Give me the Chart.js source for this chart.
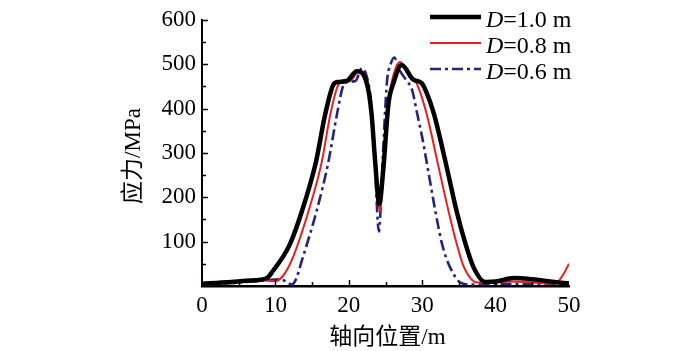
<!DOCTYPE html>
<html>
<head>
<meta charset="utf-8">
<script src="https://cdn.jsdelivr.net/npm/chart.js@4.4.0/dist/chart.umd.min.js"></script>
<style>
html,body{margin:0;padding:0;background:#fff;}
#wrap{width:700px;height:351px;position:relative;}
</style>
</head>
<body>
<div id="wrap"><canvas id="c" width="700" height="351"></canvas></div>
<script>
// ---- data ----
const seriesLabels = ['1.0', '0.8', '0.6'];

const x10 = [0, 2, 4, 6, 8, 9, 9.7, 11, 12, 13.6, 15.5, 16.8, 17.9, 18.5, 19.7, 21.1, 22.5, 23.1, 23.6, 24.15, 24.7, 25.4, 26.1, 27.2, 28.8, 29.9, 30.5, 31.6, 33.2, 34.7, 35.9, 37, 38.6, 40, 42.5, 45, 48, 50];
const y10 = [5, 7, 9, 12, 14, 20, 35, 65, 95, 168, 278, 388, 454, 460, 462, 484, 454, 388, 278, 185, 263, 410, 458, 498, 465, 458, 440, 388, 278, 168, 95, 42, 9, 10, 18, 15, 9, 6];

const x08 = [0, 3, 6, 8, 10, 11, 12.2, 14.5, 16.3, 17.5, 18.6, 19.3, 20.2, 21.4, 22.6, 23.2, 23.7, 24.2, 24.7, 25.3, 26, 27, 28.3, 29.2, 30.6, 32.1, 33.6, 34.7, 35.7, 37.5, 39, 42, 45, 47.5, 48.5, 49.3, 50];
const y08 = [3, 6, 10, 13, 11, 22, 57, 168, 278, 388, 454, 460, 462, 484, 455, 385, 275, 168, 250, 400, 470, 505, 470, 458, 388, 278, 168, 95, 42, 8, 8, 10, 8, 5, 10, 28, 50];

const x06 = [0, 3, 6, 9, 10.5, 11.5, 12.2, 12.8, 13.6, 15.6, 17.2, 18.4, 19.3, 19.8, 20.9, 21.8, 22.5, 23, 23.5, 24.1, 24.6, 25.2, 25.7, 26.2, 26.8, 27.9, 28.6, 29.3, 30, 30.6, 31.8, 32.7, 33.8, 35.4, 37, 40, 45, 50];
const y06 = [3, 6, 9, 13, 15, 10, 3, 15, 57, 168, 278, 388, 454, 460, 462, 491, 469, 420, 300, 123, 280, 460, 500, 515, 490, 462, 443, 390, 335, 280, 168, 95, 42, 6, 3, 5, 5, 5];

const xTicks = [0, 10, 20, 30, 40, 50];
const yTicks = [100, 200, 300, 400, 500, 600];
const xTitle = '轴向位置/m';
const yTitle = '应力/MPa';

// ---- chart ----
const FONT = "'Times New Roman', 'Liberation Serif', serif";
const CJK = "'Times New Roman', 'Liberation Serif', 'Noto Sans CJK SC', serif";
const colors = ['#000000', '#ee1c1c', '#27247a'];
const widths = [4.5, 2, 2.6];
const dashes = [[], [], [11, 4, 3, 4]];

function pts(xs, ys) { return xs.map((x, i) => ({x: x, y: ys[i]})); }
const allX = [x10, x08, x06], allY = [y10, y08, y06];

const datasets = seriesLabels.map((lab, i) => ({
  label: 'D=' + lab + ' m',
  data: pts(allX[i], allY[i]),
  borderColor: colors[i],
  borderWidth: widths[i],
  borderDash: dashes[i],
  pointRadius: 0,
  fill: false,
  cubicInterpolationMode: 'monotone',
  order: [1, 2, 3][i]
}));

const decor = {
  id: 'decor',
  afterDraw(chart) {
    const ctx = chart.ctx;
    const xs = chart.scales.x, ys = chart.scales.y;
    const ca = chart.chartArea;
    ctx.save();
    ctx.strokeStyle = '#000';
    ctx.lineWidth = 1.5;
    // inward ticks
    for (let v = 50; v <= 600; v += 50) {
      const p = Math.round(ys.getPixelForValue(v)) + 0.5;
      const len = (v % 100 === 0) ? 6 : 4;
      ctx.beginPath(); ctx.moveTo(ca.left, p); ctx.lineTo(ca.left + len, p); ctx.stroke();
    }
    for (let v = 5; v <= 45; v += 5) {
      const p = Math.round(xs.getPixelForValue(v)) + 0.5;
      const len = (v % 10 === 0) ? 6 : 4;
      ctx.beginPath(); ctx.moveTo(p, ca.bottom); ctx.lineTo(p, ca.bottom - len); ctx.stroke();
    }
    // axis titles
    ctx.fillStyle = '#000';
    ctx.font = '23px ' + CJK;
    ctx.textAlign = 'center';
    ctx.textBaseline = 'middle';
    ctx.fillText(xTitle, (ca.left + ca.right) / 2 + 2, 338);
    ctx.save();
    ctx.translate(134, 156);
    ctx.rotate(-Math.PI / 2);
    ctx.fillText(yTitle, 0, 0);
    ctx.restore();
    // legend
    const rows = [17, 43, 69];
    chart.data.datasets.forEach((ds, i) => {
      const y = rows[i];
      ctx.save();
      ctx.strokeStyle = ds.borderColor;
      ctx.lineWidth = ds.borderWidth;
      ctx.setLineDash(ds.borderDash || []);
      ctx.beginPath(); ctx.moveTo(430, y); ctx.lineTo(481, y); ctx.stroke();
      ctx.restore();
      ctx.textAlign = 'left';
      ctx.textBaseline = 'alphabetic';
      ctx.font = 'italic 24px ' + FONT;
      ctx.fillText('D', 486, y + 10);
      const w = ctx.measureText('D').width;
      ctx.font = '24px ' + FONT;
      ctx.fillText('=' + seriesLabels[i] + ' m', 486 + w, y + 10);
    });
    ctx.restore();
  }
};

new Chart(document.getElementById('c'), {
  type: 'line',
  data: { datasets: datasets },
  options: {
    responsive: false,
    animation: false,
    devicePixelRatio: 1,
    layout: { padding: { left: 0, top: 14, right: 131, bottom: 0 } },
    plugins: { legend: { display: false }, tooltip: { enabled: false } },
    scales: {
      x: {
        type: 'linear', min: 0, max: 50,
        afterFit(s) { s.height = 65; },
        afterBuildTicks(s) { s.ticks = xTicks.map(v => ({value: v})); },
        grid: { display: false, drawTicks: false },
        border: { display: true, color: '#000', width: 2.5 },
        ticks: { color: '#000', padding: 6, font: { family: FONT, size: 23 }, maxRotation: 0 }
      },
      y: {
        type: 'linear', min: 0, max: 600,
        afterFit(s) { s.width = 202; },
        afterBuildTicks(s) { s.ticks = yTicks.map(v => ({value: v})); },
        grid: { display: false, drawTicks: false },
        border: { display: true, color: '#000', width: 2 },
        ticks: { color: '#000', padding: 6, font: { family: FONT, size: 23 } }
      }
    }
  },
  plugins: [decor]
});
</script>
</body>
</html>
